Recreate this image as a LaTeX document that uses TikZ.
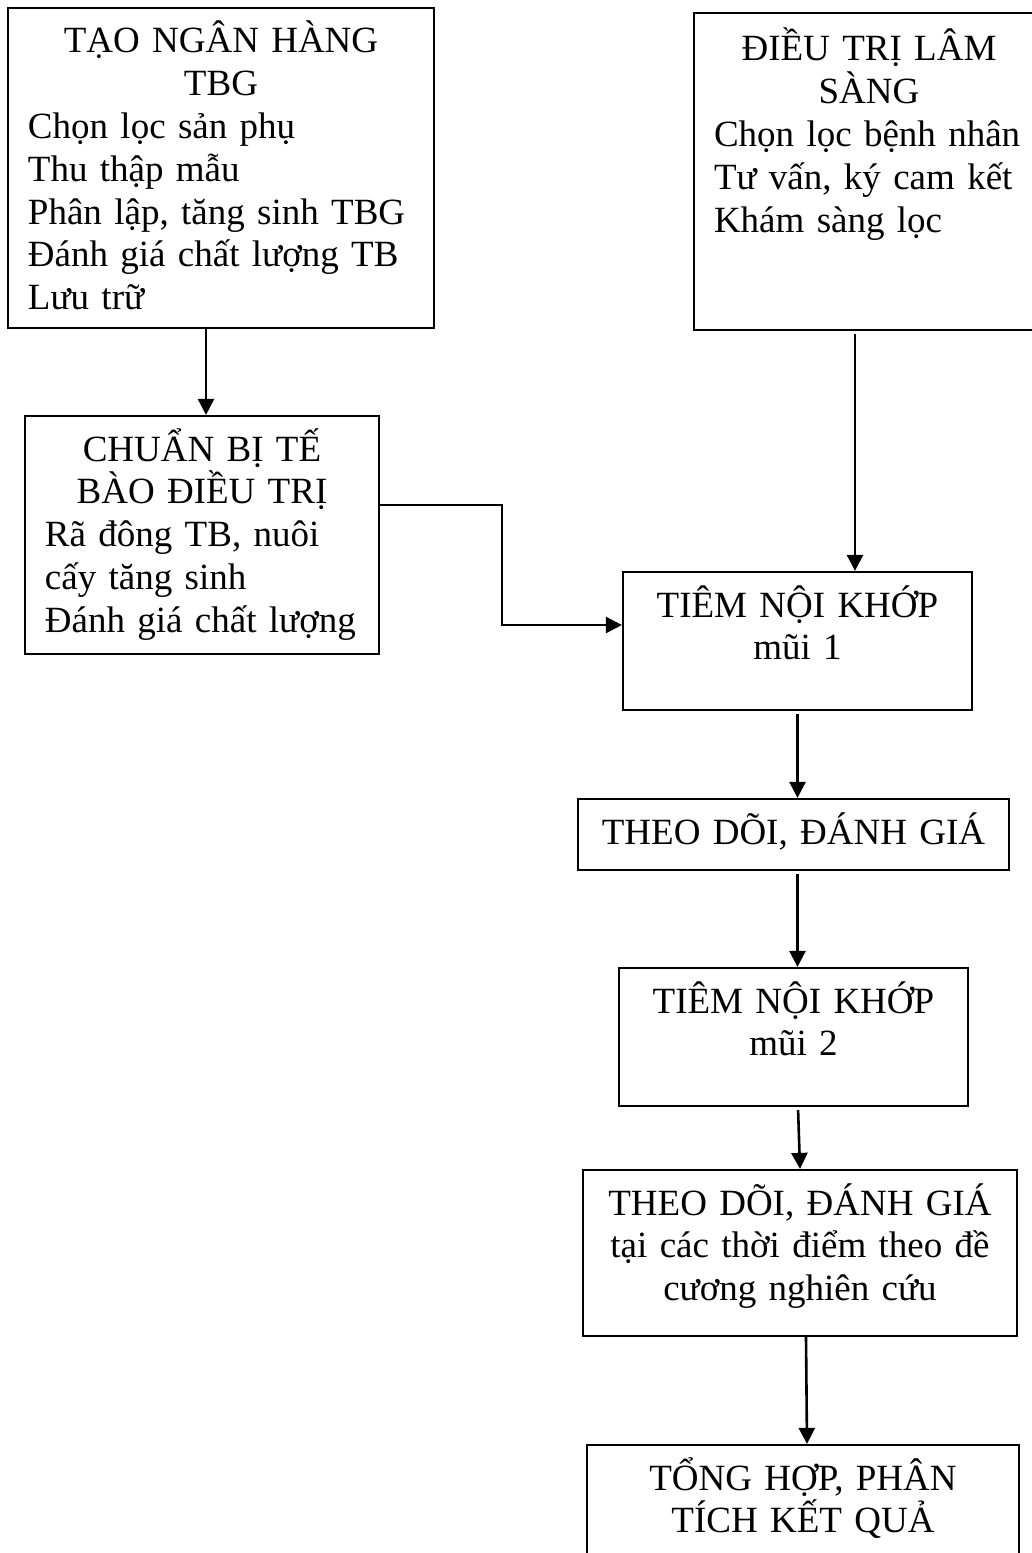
\documentclass[tikz,border=0pt]{standalone}
\usepackage{fontspec}
\setmainfont{Liberation Serif}
\usetikzlibrary{arrows.meta}
\setlength{\lineskiplimit}{-20pt}

\begin{document}
\begin{tikzpicture}[node distance=100pt,
  box/.style={shape=rectangle, draw, line width=1.1pt, inner xsep=10pt, inner ysep=0pt,
    text height=22.5pt, font=\fontsize{18.5pt}{21.4pt}\selectfont},
  arr/.style={-{Triangle[length=8pt,width=8pt]}, line width=1.3pt}]
\clip (-110.5pt,84pt) rectangle (405.5pt,-692.5pt);
\node [box, text width=193pt, text depth=137.5pt, align=left] (A) {\makebox[\linewidth]{TẠO NGÂN HÀNG}\\ \makebox[\linewidth]{TBG}\\ Chọn lọc sản phụ\\ Thu thập mẫu\\ Phân lập, tăng sinh TBG\\ Đánh giá chất lượng TB\\ Lưu trữ};
\node [box, right of=A, node distance=324pt, yshift=-1.75pt, text width=155pt, text height=24pt, text depth=134.5pt, align=left] (B) {\makebox[\linewidth]{ĐIỀU TRỊ LÂM}\\ \makebox[\linewidth]{SÀNG}\\ Chọn lọc bệnh nhân\\ Tư vấn, ký cam kết\\ Khám sàng lọc};
\node [box, below of=A, node distance=183.5pt, xshift=-9.5pt, text width=157pt, text depth=96.5pt, align=left] (C) {\makebox[\linewidth]{CHUẨN BỊ TẾ}\\ \makebox[\linewidth]{BÀO ĐIỀU TRỊ}\\ Rã đông TB, nuôi\\ cấy tăng sinh\\ Đánh giá chất lượng};
\node [box, below of=B, node distance=234.75pt, xshift=-35.75pt, text width=154.5pt, text depth=46.5pt, align=center] (D) {TIÊM NỘI KHỚP\\ mũi 1};
\node [box, below of=D, node distance=96.75pt, xshift=-2pt, text width=195.5pt, text depth=13pt, align=center] (E) {THEO DÕI, ĐÁNH GIÁ};
\node [box, below of=E, node distance=101.25pt, text width=154.5pt, text depth=46.5pt, align=center] (F) {TIÊM NỘI KHỚP\\ mũi 2};
\node [box, below of=F, node distance=108pt, xshift=3.25pt, text width=197pt, text depth=60.5pt, align=center] (G) {THEO DÕI, ĐÁNH GIÁ\\ tại các thời điểm theo đề\\ cương nghiên cứu};
\node [box, below of=G, node distance=130.5pt, xshift=1.5pt, text width=196pt, text depth=46.5pt, align=center] (H) {TỔNG HỢP, PHÂN\\ TÍCH KẾT QUẢ};

\draw[arr] ([xshift=-7.5pt]A.south) -- ([xshift=-7.5pt]A.south |- C.north);
\draw[arr, shorten <=1.5pt] ([xshift=-7pt]B.south) -- ([xshift=-7pt]B.south |- D.north);
\draw[arr] ([yshift=15pt]C.east) -- ++(61pt,0) |- ([yshift=8pt]D.west);
\draw[arr, shorten <=1.5pt] (D.south) -- (D.south |- E.north);
\draw[arr, shorten <=1.5pt] ([xshift=2pt]E.south) -- ([xshift=2pt]E.south |- F.north);
\draw[arr, shorten <=1.5pt] ([xshift=2.25pt]F.south) -- (G.north);
\draw[arr] ([xshift=3pt]G.south) -- ([xshift=2pt]H.north);
\end{tikzpicture}
\end{document}
